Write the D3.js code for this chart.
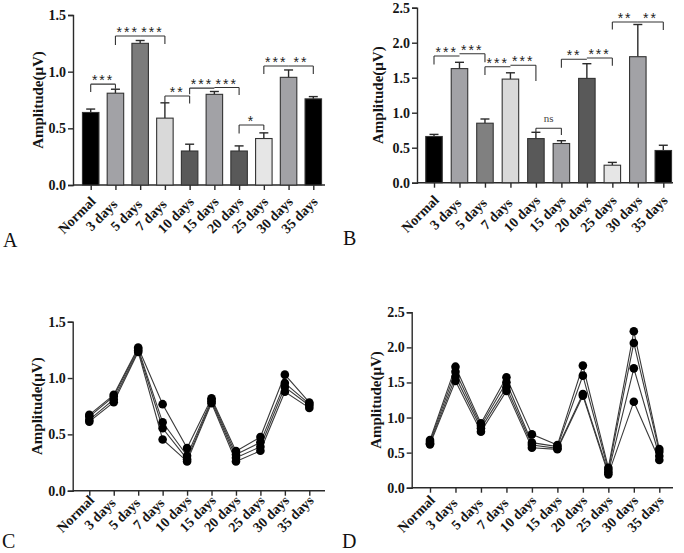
<!DOCTYPE html>
<html><head><meta charset="utf-8">
<script src="https://cdn.jsdelivr.net/npm/d3@7"></script>
<style>
body{margin:0;background:#fff;}
svg text{font-family:"Liberation Serif","Times New Roman",Times,serif;}
svg text.ast{font-family:"Liberation Sans",Arial,sans-serif;}
</style></head><body>
<svg id="c" width="684" height="553"></svg>
<script>
const categories = ["Normal","3 days","5 days","7 days","10 days","15 days","20 days","25 days","30 days","35 days"];
const barColors = ["#000000","#a2a2a6","#7b7b7b","#d9d9d9","#595959","#a2a2a6","#595959","#e6e6e6","#a2a2a6","#000000"];
const barColorsB = ["#000000","#a2a2a6","#808080","#d9d9d9","#595959","#a2a2a6","#595959","#e6e6e6","#a2a2a6","#000000"];

// Panel A: mean ± SEM
const meanA = [0.64,0.81,1.25,0.59,0.30,0.80,0.30,0.41,0.95,0.76];
const errA  = [0.03,0.035,0.025,0.135,0.06,0.025,0.045,0.05,0.065,0.02];
// Panel B: mean ± SEM
const meanB = [0.66,1.63,0.85,1.48,0.63,0.56,1.49,0.25,1.80,0.46];
const errB  = [0.03,0.09,0.06,0.09,0.09,0.04,0.21,0.04,0.46,0.075];

const yTicksA = [0,0.5,1.0,1.5];
const yTicksB = [0,0.5,1.0,1.5,2.0,2.5];

// Panel C: individual traces
const repC1 = [0.673,0.851,1.271,0.768,0.378,0.821,0.351,0.476,1.030,0.783];
const repC2 = [0.658,0.836,1.259,0.607,0.310,0.807,0.321,0.429,0.955,0.771];
const repC3 = [0.628,0.810,1.244,0.554,0.280,0.792,0.292,0.390,0.920,0.756];
const repC4 = [0.613,0.786,1.232,0.455,0.260,0.777,0.259,0.354,0.878,0.735];
// Panel D: individual traces
const repD1 = [0.680,1.725,0.917,1.573,0.760,0.608,1.740,0.285,2.229,0.551];
const repD2 = [0.656,1.654,0.884,1.502,0.642,0.585,1.597,0.252,2.063,0.513];
const repD3 = [0.632,1.583,0.846,1.430,0.608,0.561,1.335,0.219,1.701,0.452];
const repD4 = [0.618,1.521,0.798,1.378,0.570,0.547,1.312,0.190,1.226,0.394];

// significance brackets: from, to, bracket level, drop ends (data units), label
const sigA = [
 {from:"Normal", to:"3 days", level:0.89, dropFrom:0.82, dropTo:0.85, label:"***"},
 {from:"3 days", to:"5 days", level:1.315, dropFrom:1.235, dropTo:null, label:"***"},
 {from:"5 days", to:"7 days", level:1.315, dropFrom:null, dropTo:1.245, label:"***"},
 {from:"7 days", to:"10 days", level:0.785, dropFrom:0.726, dropTo:0.72, label:"**"},
 {from:"10 days", to:"15 days", level:0.855, dropFrom:0.80, dropTo:null, label:"***"},
 {from:"15 days", to:"20 days", level:0.86, dropFrom:null, dropTo:0.795, label:"***"},
 {from:"20 days", to:"25 days", level:0.53, dropFrom:0.455, dropTo:0.485, label:"*"},
 {from:"25 days", to:"30 days", level:1.05, dropFrom:0.98, dropTo:null, label:"***"},
 {from:"30 days", to:"35 days", level:1.05, dropFrom:null, dropTo:0.98, label:"**"}
];
const sigB = [
 {from:"Normal", to:"3 days", level:1.81, dropFrom:1.69, dropTo:null, label:"***"},
 {from:"3 days", to:"5 days", level:1.843, dropFrom:null, dropTo:1.72, label:"***"},
 {from:"5 days", to:"7 days", level:1.657, dropFrom:1.54, dropTo:null, label:"***"},
 {from:"7 days", to:"10 days", level:1.677, dropFrom:null, dropTo:1.453, label:"***"},
 {from:"10 days", to:"15 days", level:0.777, dropFrom:0.72, dropTo:0.68, label:"ns"},
 {from:"15 days", to:"20 days", level:1.763, dropFrom:1.643, dropTo:null, label:"**"},
 {from:"20 days", to:"25 days", level:1.781, dropFrom:null, dropTo:1.671, label:"***"},
 {from:"25 days", to:"30 days", level:2.296, dropFrom:2.19, dropTo:null, label:"**"},
 {from:"30 days", to:"35 days", level:2.296, dropFrom:null, dropTo:2.18, label:"**"}
];

const svg = d3.select("#c");
const AX = "#2a2a2a", TXT = "#151515";

function frame(p){
  const g = svg.append("g");
  const y = d3.scaleLinear().domain([0, p.ymax]).range([p.yBot, p.yTop]);
  const x = d3.scalePoint().domain(categories).range([p.cx0, p.cx1]);
  const ya = g.append("g").attr("transform",`translate(${p.x0},0)`)
    .call(d3.axisLeft(y).tickValues(p.ticks).tickFormat(d3.format(".1f")).tickSize(5).tickPadding(2));
  ya.select(".domain").attr("stroke",AX).attr("stroke-width",1.4);
  ya.selectAll(".tick line").attr("stroke",AX).attr("stroke-width",1.4);
  ya.selectAll("text").attr("font-size",14).attr("font-weight","bold").attr("fill",TXT);
  g.append("line").attr("x1",p.x0).attr("x2",p.x1).attr("y1",p.yBot).attr("y2",p.yBot)
    .attr("stroke",AX).attr("stroke-width",1.4);
  const xa = g.append("g").attr("transform",`translate(0,${p.yBot})`)
    .call(d3.axisBottom(x).tickSize(5).tickFormat(""));
  xa.select(".domain").remove();
  xa.selectAll(".tick line").attr("stroke",AX).attr("stroke-width",1.4);
  g.selectAll(".cat").data(categories).enter().append("text")
    .attr("transform",d=>`translate(${x(d)+p.lx},${p.yBot+p.ly}) rotate(-45)`)
    .attr("text-anchor","middle").attr("dy","0.35em")
    .attr("font-size",14).attr("font-weight","bold").attr("fill",TXT).text(d=>d);
  g.append("text").attr("transform",`translate(${p.tx},${(p.yTop+p.yBot)/2}) rotate(-90)`)
    .attr("text-anchor","middle").attr("dy","0.35em")
    .attr("font-size",15).attr("font-weight","bold").attr("fill",TXT).text("Amplitude(μV)");
  g.append("text").attr("x",p.letter[0]).attr("y",p.letter[1]).attr("font-size",20)
    .attr("fill","#111").text(p.id);
  return {g,x,y};
}

function barPanel(p){
  const {g,x,y} = frame(p);
  const bw = 16.5;
  const data = categories.map((c,i)=>({c, m:p.mean[i], e:p.err[i], col:p.colors[i]}));
  g.selectAll(".eb").data(data).enter().append("line")
    .attr("x1",d=>x(d.c)).attr("x2",d=>x(d.c)).attr("y1",d=>y(d.m)).attr("y2",d=>y(d.m+d.e))
    .attr("stroke",AX).attr("stroke-width",1.4);
  g.selectAll(".cap").data(data).enter().append("line")
    .attr("x1",d=>x(d.c)-4.5).attr("x2",d=>x(d.c)+4.5).attr("y1",d=>y(d.m+d.e)).attr("y2",d=>y(d.m+d.e))
    .attr("stroke",AX).attr("stroke-width",1.4);
  g.selectAll(".bar").data(data).enter().append("rect")
    .attr("x",d=>x(d.c)-bw/2).attr("width",bw)
    .attr("y",d=>y(d.m)).attr("height",d=>y(0)-y(d.m))
    .attr("fill",d=>d.col).attr("stroke","#333").attr("stroke-width",1.1);
  p.sig.forEach(s=>{
    const xa = x(s.from), xb = x(s.to), yl = y(s.level);
    let path = `M${xa},${yl}L${xb},${yl}`;
    if(s.dropFrom!==null) path += `M${xa},${yl}L${xa},${y(s.dropFrom)}`;
    if(s.dropTo!==null) path += `M${xb},${yl}L${xb},${y(s.dropTo)}`;
    g.append("path").attr("d",path).attr("fill","none").attr("stroke","#333").attr("stroke-width",1.1);
    const t = g.append("text").attr("x",(xa+xb)/2).attr("text-anchor","middle").text(s.label);
    if(s.label==="ns"){
      t.attr("y",yl-6).attr("font-size",11).attr("fill","#444");
    } else {
      t.attr("class","ast").attr("y",yl+1).attr("font-size",14).attr("fill","#222")
       .attr("letter-spacing","2px");
    }
  });
}

function linePanel(p){
  const {g,x,y} = frame(p);
  const line = d3.line().x((d,i)=>x(categories[i])).y(d=>y(d));
  p.reps.forEach(r=>{
    g.append("path").attr("d",line(r)).attr("fill","none").attr("stroke","#3a3a3a").attr("stroke-width",1.1);
  });
  p.reps.forEach(r=>{
    g.selectAll(null).data(r).enter().append("circle")
      .attr("cx",(d,i)=>x(categories[i])).attr("cy",d=>y(d)).attr("r",4.3).attr("fill","#000");
  });
}

barPanel({id:"A", mean:meanA, err:errA, colors:barColors, sig:sigA, ticks:yTicksA, ymax:1.5,
  x0:73, x1:325, cx0:90.7, cx1:313.3, yTop:15, yBot:185, lx:-14, ly:30, tx:38, letter:[3,247]});
barPanel({id:"B", mean:meanB, err:errB, colors:barColorsB, sig:sigB, ticks:yTicksB, ymax:2.5,
  x0:417, x1:673, cx0:434, cx1:663.3, yTop:7.7, yBot:182.7, lx:-14, ly:31, tx:378, letter:[343,245]});
linePanel({id:"C", reps:[repC1,repC2,repC3,repC4], ticks:yTicksA, ymax:1.5,
  x0:72.7, x1:325, cx0:89.3, cx1:309.3, yTop:321.7, yBot:490.7, lx:-14, ly:23, tx:37, letter:[2,548]});
linePanel({id:"D", reps:[repD1,repD2,repD3,repD4], ticks:yTicksB, ymax:2.5,
  x0:411.7, x1:673, cx0:430, cx1:659.3, yTop:312.3, yBot:487.7, lx:-14, ly:26, tx:376, letter:[342,548]});
</script>
</body></html>
